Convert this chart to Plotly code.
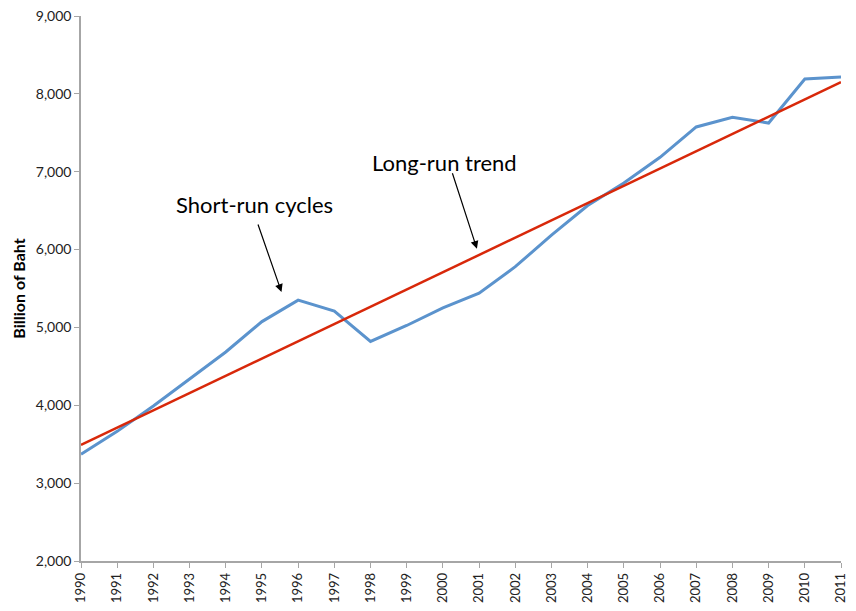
import plotly.graph_objects as go

years = list(range(1990, 2012))
gdp = [3370, 3665, 3990, 4335, 4685, 5075, 5350, 5210, 4820, 5025, 5250,
       5440, 5780, 6185, 6565, 6855, 7185, 7575, 7700, 7625, 8190, 8215]
trend_years = [1990, 2011]
trend_values = [3490, 8150]
year_labels = [str(y) for y in years]
y_ticks = [2000, 3000, 4000, 5000, 6000, 7000, 8000, 9000]

fig = go.Figure()
fig.add_trace(go.Scatter(x=years, y=gdp, mode="lines",
                         line=dict(color="#5B93CD", width=3), showlegend=False))
fig.add_trace(go.Scatter(x=trend_years, y=trend_values, mode="lines",
                         line=dict(color="#D8280A", width=2.5), showlegend=False))

font_main = "Lato, 'Open Sans', sans-serif"
fig.add_annotation(x=1994.8, y=6578, text="Short-run cycles", showarrow=False,
                   font=dict(size=22, color="black", family=font_main))
fig.add_annotation(x=2000.05, y=7120, text="Long-run trend", showarrow=False,
                   font=dict(size=22, color="black", family=font_main))
fig.add_annotation(x=1995.54, y=5455, text="", showarrow=True, ax=-24, ay=-69,
                   arrowhead=2, arrowsize=1.3, arrowwidth=1.2, arrowcolor="black")
fig.add_annotation(x=2000.94, y=6010, text="", showarrow=True, ax=-25, ay=-77,
                   arrowhead=2, arrowsize=1.3, arrowwidth=1.2, arrowcolor="black")

# the page body adds an 8px margin, so the figure is sized to fit inside the window
fig.update_layout(
    width=840, height=595,
    margin=dict(l=73, r=7, t=8, b=42),
    plot_bgcolor="white", paper_bgcolor="white",
    font=dict(family=font_main, color="#222222"),
)
fig.update_xaxes(range=[1990, 2011], tickmode="array", tickvals=years,
                 ticktext=year_labels, tickangle=-90, showgrid=False,
                 showline=True, linecolor="#A6A6A6", linewidth=1.5,
                 ticks="outside", tickcolor="#A6A6A6", ticklen=5,
                 tickfont=dict(size=13), zeroline=False, automargin=False,
                 ticklabeloverflow="allow")
fig.update_yaxes(range=[2000, 9000], tickmode="array", tickvals=y_ticks,
                 ticktext=[f"{v:,}" for v in y_ticks], showgrid=False,
                 showline=True, linecolor="#A6A6A6", linewidth=1.5,
                 ticks="outside", tickcolor="#A6A6A6", ticklen=5,
                 tickfont=dict(size=14), zeroline=False, automargin=False,
                 ticklabeloverflow="allow",
                 title=dict(text="<b>Billion of Baht</b>", font=dict(size=16, color="black"),
                            standoff=6))

fig.write_html("out.html")
